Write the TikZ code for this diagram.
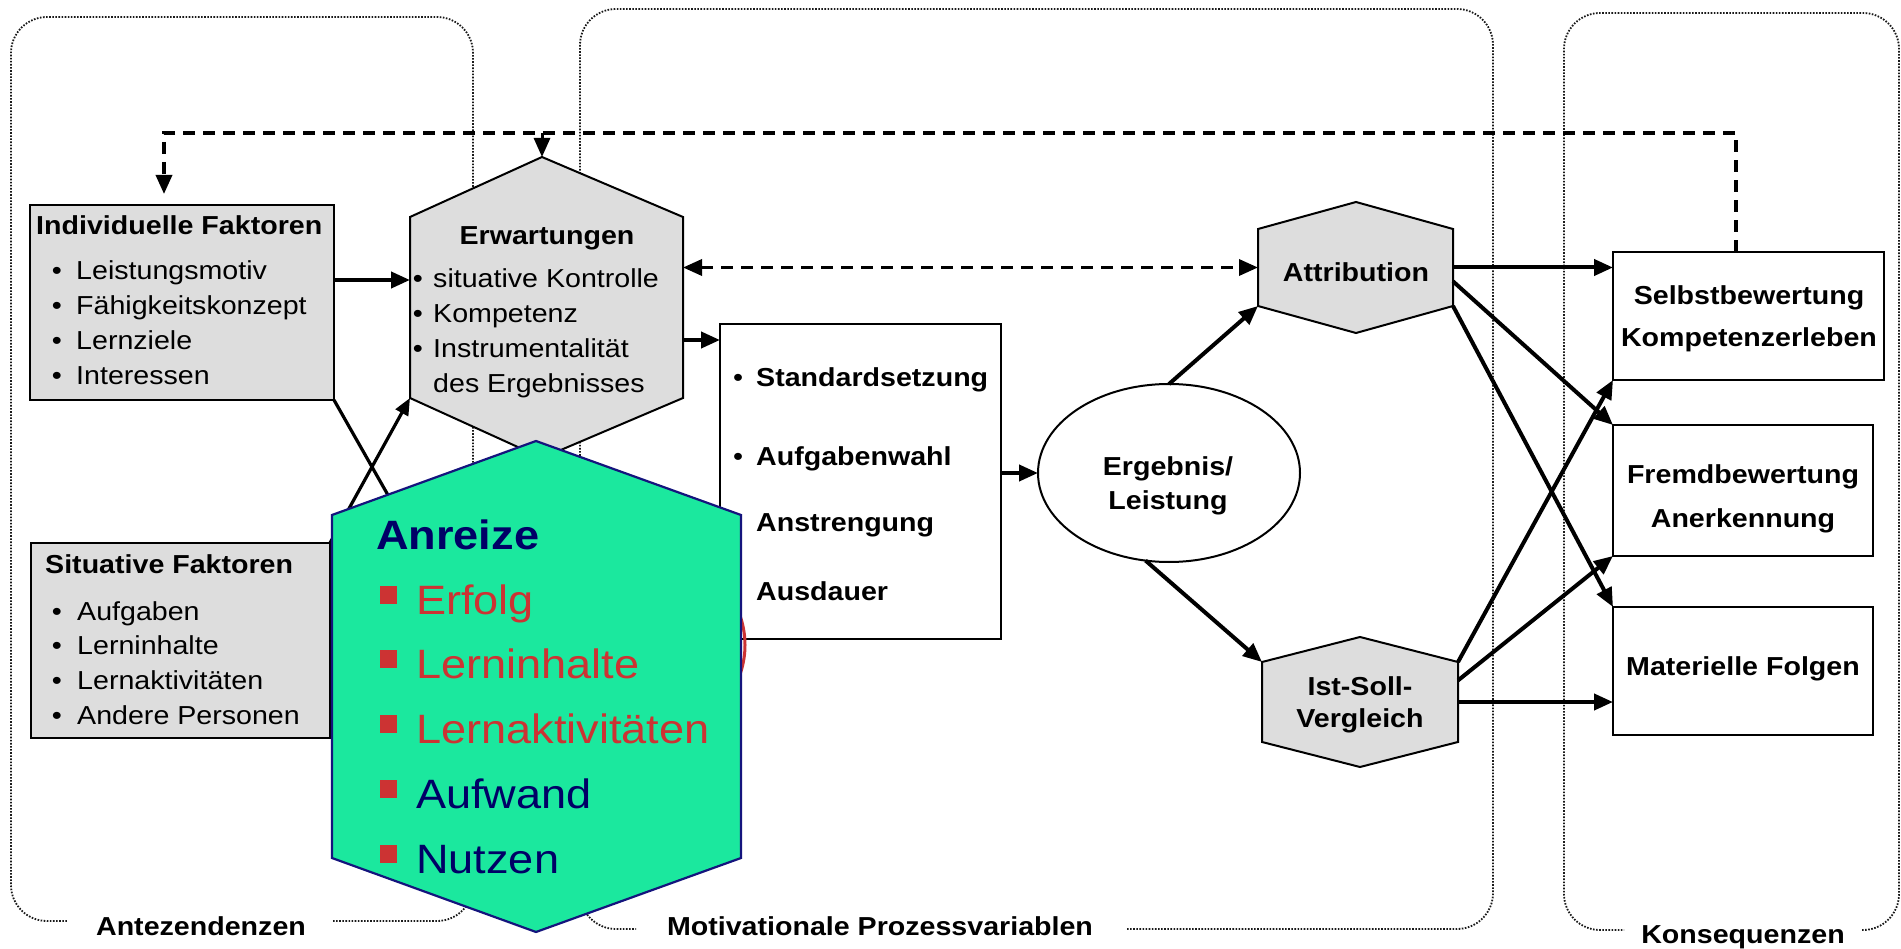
\documentclass[tikz,border=0pt]{standalone}
\usepackage{fontspec}
\setmainfont{Liberation Sans}[FakeStretch=1.1]
\usetikzlibrary{arrows.meta,shapes.geometric,calc}

\definecolor{panelgray}{RGB}{221,221,221}
\definecolor{incgreen}{RGB}{27,232,158}
\definecolor{incnavy}{RGB}{0,0,102}
\definecolor{incedge}{RGB}{20,20,125}
\definecolor{incred}{RGB}{204,51,51}
\definecolor{grpdot}{RGB}{25,25,25}

\tikzset{
  grp/.style={draw=grpdot, line width=1.8pt, dash pattern=on 1.6pt off 1.5pt, rounded corners=36pt},
  grplabel/.style={anchor=base, inner sep=0pt, font=\fontsize{26}{31}\selectfont\bfseries},
  gbox/.style={draw=black, line width=2pt, fill=panelgray, inner sep=0pt, outer sep=0pt, anchor=north west},
  wbox/.style={draw=black, line width=2pt, fill=white, inner sep=0pt, outer sep=0pt, anchor=north west},
  hexfill/.style={draw=black, line width=2pt, fill=panelgray, line join=miter},
  txt/.style={anchor=base west, inner sep=0pt, font=\fontsize{26}{31}\selectfont},
  btxt/.style={anchor=base west, inner sep=0pt, font=\fontsize{26}{31}\selectfont\bfseries},
  ctxt/.style={anchor=base, inner sep=0pt, font=\fontsize{26}{31}\selectfont\bfseries},
  bul/.style={anchor=base, inner sep=0pt, font=\fontsize{26}{31}\selectfont},
  tip/.tip={Triangle[length=19pt,width=16pt]},
  arr/.style={line width=4pt, -tip},
  xarr/.style={line width=3.2pt, -{Triangle[length=17pt,width=14pt]}},
  dashline/.style={line width=3.4pt, dash pattern=on 12pt off 8pt},
  anritem/.style={anchor=base west, inner sep=0pt, font=\fontsize{41}{49}\selectfont},
  sq/.style={fill=incred, minimum width=17pt, minimum height=18pt, inner sep=0pt, outer sep=0pt}
}

\begin{document}
\begin{tikzpicture}[x=1pt,y=-1pt]
\useasboundingbox (0,0) rectangle (1901,949);
\fill[white] (0,0) rectangle (1901,949);

% dotted frames of the three phases
\draw[grp] (333,921) -- (473,921) -- (473,17) -- (11,17) -- (11,921) -- (67,921);
\draw[grp] (1127,929) -- (1493,929) -- (1493,9) -- (580,9) -- (580,929) -- (636,929);
\draw[grp] (1862,930) -- (1899,930) -- (1899,13) -- (1564,13) -- (1564,930) -- (1624,930);
\node[grplabel] (lblA) at (201,935) {Antezendenzen};
\node[grplabel] (lblM) at (880,935) {Motivationale Prozessvariablen};
\node[grplabel] (lblK) at (1743,943) {Konsequenzen};

% antecedents
\node[gbox, minimum width=304pt, minimum height=195pt] (indiv) at (30,205) {};
\node[btxt] (indivT) at (36,235) {Individuelle Faktoren};
\foreach \y/\t [count=\i] in {280/Leistungsmotiv,315/Fähigkeitskonzept,350/Lernziele,385/Interessen}{
  \node[bul] (indivB\i) at (57,\y) {•};
  \node[txt] (indivI\i) at (76,\y) {\t};
}
\node[gbox, minimum width=299pt, minimum height=195pt] (sit) at (31,543) {};
\node[btxt] (sitT) at (45,573) {Situative Faktoren};
\foreach \y/\t [count=\i] in {620/Aufgaben,654/Lerninhalte,689/Lernaktivitäten,724/Andere Personen}{
  \node[bul] (sitB\i) at (57,\y) {•};
  \node[txt] (sitI\i) at (77,\y) {\t};
}

% expectations hexagon
\coordinate (erwT) at (542,157);
\coordinate (erwUR) at (683,217);
\coordinate (erwLR) at (683,398);
\coordinate (erwB) at (542,458);
\coordinate (erwLL) at (410,398);
\coordinate (erwUL) at (410,217);
\draw[hexfill] (erwT) -- (erwUR) -- (erwLR) -- (erwB) -- (erwLL) -- (erwUL) -- cycle;
\node[ctxt] (erwTitle) at (547,245) {Erwartungen};
\foreach \y/\t [count=\i] in {288/situative Kontrolle,323/Kompetenz,358/Instrumentalität}{
  \node[bul] (erwBul\i) at (418,\y) {•};
  \node[txt] (erwI\i) at (433,\y) {\t};
}
\node[txt] (erwI4) at (433,392) {des Ergebnisses};

% action box
\node[wbox, minimum width=281pt, minimum height=315pt] (std) at (720,324) {};
\foreach \y/\t [count=\i] in {387/Standardsetzung,465/Aufgabenwahl,531/Anstrengung,600/Ausdauer}{
  \node[bul] (stdB\i) at (738,\y) {•};
  \node[btxt] (stdI\i) at (756,\y) {\t};
}

% outcome
\node[draw, ellipse, line width=2pt, fill=white, minimum width=262pt, minimum height=178pt, inner sep=0pt, outer sep=0pt] (erg) at (1169,473) {};
\node[ctxt] (ergT1) at (1168,475) {Ergebnis/};
\node[ctxt] (ergT2) at (1168,509) {Leistung};

% attribution hexagon
\coordinate (attrT) at (1356,202);
\coordinate (attrUR) at (1453,229);
\coordinate (attrLR) at (1453,306);
\coordinate (attrB) at (1356,333);
\coordinate (attrLL) at (1258,306);
\coordinate (attrUL) at (1258,229);
\draw[hexfill] (attrT) -- (attrUR) -- (attrLR) -- (attrB) -- (attrLL) -- (attrUL) -- cycle;
\node[ctxt] (attrTxt) at (1356,282) {Attribution};
\coordinate (attrR) at ($(attrUR)!0.5!(attrLR)$);
\coordinate (attrR2) at ($(attrUR)!0.68!(attrLR)$);

% comparison hexagon
\coordinate (istT) at (1360,637);
\coordinate (istUR) at (1458,662);
\coordinate (istLR) at (1458,742);
\coordinate (istB) at (1360,767);
\coordinate (istLL) at (1262,742);
\coordinate (istUL) at (1262,662);
\draw[hexfill] (istT) -- (istUR) -- (istLR) -- (istB) -- (istLL) -- (istUL) -- cycle;
\node[ctxt] (istTxt1) at (1360,695) {Ist-Soll-};
\node[ctxt] (istTxt2) at (1360,727) {Vergleich};
\coordinate (istR) at ($(istUR)!0.5!(istLR)$);
\coordinate (istR2) at ($(istUR)!0.23!(istLR)$);

% consequences
\node[wbox, minimum width=271pt, minimum height=128pt] (selbst) at (1613,252) {};
\node[ctxt] (selbstT1) at (1749,305) {Selbstbewertung};
\node[ctxt] (selbstT2) at (1749,347) {Kompetenzerleben};
\node[wbox, minimum width=260pt, minimum height=131pt] (fremd) at (1613,425) {};
\node[ctxt] (fremdT1) at (1743,483) {Fremdbewertung};
\node[ctxt] (fremdT2) at (1743,527) {Anerkennung};
\node[wbox, minimum width=260pt, minimum height=128pt] (mat) at (1613,607) {};
\node[ctxt] (matT) at (1743,675) {Materielle Folgen};

% feedback loop
\coordinate (fbL) at (164,133);
\coordinate (fbR) at (1736,133);
\draw[dashline, -tip, shorten >=11pt] (selbst.north -| fbR) -- (fbR) -- (fbL) -- (indiv.north -| fbL);
\draw[line width=3pt, -tip] (erwT |- fbL) -- (erwT);
\draw[dashline, tip-tip] (erwUR |- attrR) -- (attrUL |- attrR);

% connectors
\coordinate (erwIn) at (410,280);
\coordinate (erwOut) at (683,340);
\coordinate (hidden) at (422,555);
\draw[arr] (indiv.east |- erwIn) -- (erwIn);
\draw[line width=3.2pt] (indiv.south east) -- (hidden);
\draw[xarr] (sit.north east) -- (erwLL);
\draw[arr] (erwOut) -- (std.west |- erwOut);
\draw[arr] (std.east |- erg.west) -- (erg.west);
\draw[arr] (erg.north) -- (attrLL);
\draw[arr] (erg.-105) -- (istUL);
\draw[arr] (attrR) -- (selbst.west |- attrR);
\draw[arr] (attrR2) -- (fremd.north west);
\draw[arr] (attrLR) -- (mat.north west);
\draw[arr] (istUR) -- (selbst.south west);
\draw[arr] (istR2) -- (fremd.south west);
\draw[arr] (istR) -- (mat.west |- istR);

% red outline underneath the incentive panel
\draw[incred, line width=3pt] (560,645) ellipse [x radius=185, y radius=127];

% incentive panel
\coordinate (anrT) at (536,441);
\coordinate (anrUR) at (741,515);
\coordinate (anrLR) at (741,858);
\coordinate (anrB) at (536,932);
\coordinate (anrLL) at (332,858);
\coordinate (anrUL) at (332,515);
\draw[draw=incedge, line width=2.2pt, fill=incgreen, line join=miter] (anrT) -- (anrUR) -- (anrLR) -- (anrB) -- (anrLL) -- (anrUL) -- cycle;
\node[anchor=base west, inner sep=0pt, font=\fontsize{41}{49}\selectfont\bfseries, text=incnavy] (anrTitle) at (376,549) {Anreize};
\foreach \y/\t/\c [count=\i] in {614/Erfolg/incred,678/Lerninhalte/incred,743/Lernaktivitäten/incred,808/Aufwand/incnavy,873/Nutzen/incnavy}{
  \node[sq] (anrSq\i) at (388,\y-19.5) {};
  \node[anritem, text=\c] (anrI\i) at (416,\y) {\t};
}
\end{tikzpicture}
\end{document}
